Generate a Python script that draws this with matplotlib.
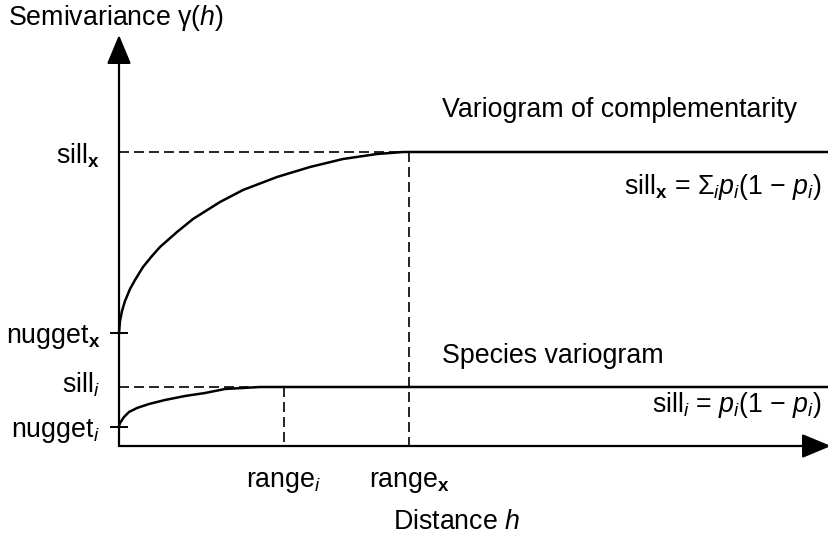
import numpy as np
import matplotlib
matplotlib.use("Agg")
import matplotlib.pyplot as plt

plt.rcParams['font.family'] = ['Liberation Sans', 'DejaVu Sans']
plt.rcParams['mathtext.fontset'] = 'custom'
plt.rcParams['mathtext.rm'] = 'Liberation Sans'
plt.rcParams['mathtext.it'] = 'Liberation Sans:italic'
plt.rcParams['mathtext.bf'] = 'Liberation Sans:bold'

# schematic values (distance h, semivariance gamma)
h_max = 712
gamma_max = 411

nugget_x = 113
sill_x = 294
range_x = 290
curve_x_h = [0, 1, 3, 6, 11, 16, 24, 33, 41, 58, 74, 101, 124, 158, 191, 224, 258, 284, 290, 712]
curve_x_g = [113, 125, 135, 145, 157, 166, 179, 190, 199, 214, 227, 244, 256, 269, 279, 287, 292, 294, 294, 294]

nugget_i = 19
sill_i = 59
range_i = 165
curve_i_h = [0, 1, 5, 10, 18, 30, 46, 66, 86, 106, 141, 165, 712]
curve_i_g = [20, 23, 29, 34, 38, 42, 46, 50, 53, 57, 59, 59, 59]

fig = plt.figure(figsize=(8.29, 5.36), dpi=100)
ax = fig.add_axes([0, 0, 1, 1])
ax.set_xlim(-119, 710)
ax.set_ylim(-90, 446)
ax.axis('off')

# axes with arrow heads
arrow = dict(arrowstyle='-|>,head_length=1.8,head_width=0.75', mutation_scale=10,
             color='black', lw=1.6, shrinkA=0, shrinkB=0)
ax.annotate('', xy=(0, gamma_max), xytext=(0, 0), arrowprops=arrow, annotation_clip=False)
ax.annotate('', xy=(h_max, 0), xytext=(0, 0), arrowprops=arrow, annotation_clip=False)

# curves
ax.plot(curve_x_h, curve_x_g, color='black', lw=1.8, solid_joinstyle='round')
ax.plot(curve_i_h, curve_i_g, color='black', lw=1.8, solid_joinstyle='round')

# dashed guides
dash = dict(color='black', lw=1.2, dashes=(6, 3))
ax.plot([0, range_x], [sill_x, sill_x], **dash)
ax.plot([range_x, range_x], [sill_x, 0], **dash)
ax.plot([0, range_i], [sill_i, sill_i], **dash)
ax.plot([range_i, range_i], [sill_i, 0], **dash)

# nugget ticks
for g in [nugget_x, nugget_i]:
    ax.plot([-8, 8], [g, g], color='black', lw=1.4)

fs = 19.3
ax.text(-111, 428, r'Semivariance γ($h$)', fontsize=fs, ha='left', va='center')
ax.text(-19, sill_x - 4, r'sill$_\mathbf{x}$', fontsize=fs, ha='right', va='center')
ax.text(-19, nugget_x - 4, r'nugget$_\mathbf{x}$', fontsize=fs, ha='right', va='center')
ax.text(-19, sill_i + 2, r'sill$_i$', fontsize=fs, ha='right', va='center')
ax.text(-19, nugget_i - 4, r'nugget$_i$', fontsize=fs, ha='right', va='center')
ax.text(range_i, -36, r'range$_i$', fontsize=fs, ha='center', va='center')
ax.text(range_x, -36, r'range$_\mathbf{x}$', fontsize=fs, ha='center', va='center')
ax.text(338, -76, r'Distance $h$', fontsize=fs, ha='center', va='center')
ax.text(323, 336, 'Variogram of complementarity', fontsize=fs, ha='left', va='center')
ax.text(323, 90, 'Species variogram', fontsize=fs, ha='left', va='center')
ax.text(703, 259, r'sill$_\mathbf{x}$ = Σ$_i$$p_i$(1 − $p_i$)', fontsize=fs, ha='right', va='center')
ax.text(703, 41, r'sill$_i$ = $p_i$(1 − $p_i$)', fontsize=fs, ha='right', va='center')

fig.savefig('out.png', dpi=100)
